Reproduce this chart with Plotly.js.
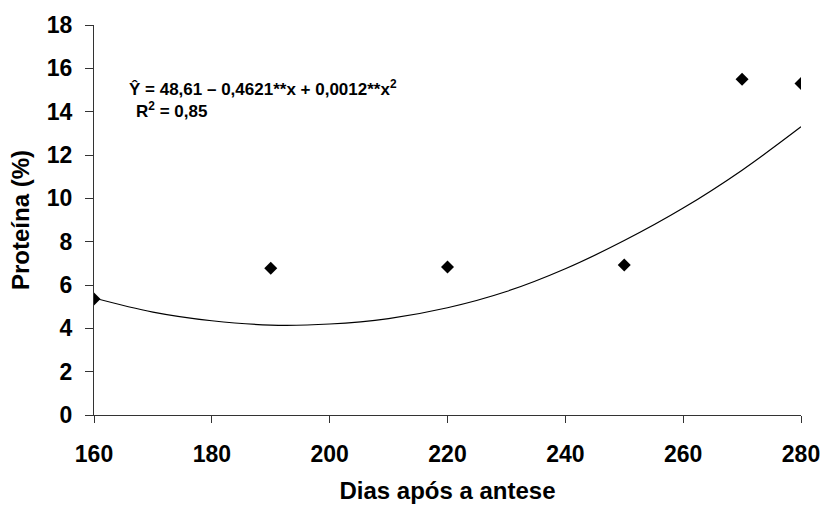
<!DOCTYPE html>
<html>
<head>
<meta charset="utf-8">
<script src="https://cdn.plot.ly/plotly-3.0.1.min.js"></script>
<style>html,body{margin:0;padding:0;background:#fff;}#chart{width:838px;height:507px;}</style>
</head>
<body>
<div id="chart"></div>
<script>
// Observed data (days after anthesis vs protein %)
const days = [160, 190, 220, 250, 270, 280];
const protein = [5.35, 6.77, 6.83, 6.92, 15.5, 15.3];

// Fitted curve
const curveDays = [160, 170, 180, 190, 200, 210, 220, 230, 240, 250, 260, 270, 280];
const curveProtein = [5.4, 4.75, 4.35, 4.15, 4.2, 4.45, 4.95, 5.7, 6.75, 8.05, 9.55, 11.3, 13.3];

const xTicks = [160, 180, 200, 220, 240, 260, 280];
const yTicks = [0, 2, 4, 6, 8, 10, 12, 14, 16, 18];

const equationText = 'Ŷ = 48,61 – 0,4621**x + 0,0012**x<sup>2</sup>';
const r2Text = 'R<sup>2</sup> = 0,85';

const FONT = 'Arial, "Liberation Sans", sans-serif';

const traces = [
  {
    x: curveDays, y: curveProtein, type: 'scatter', mode: 'lines',
    line: {color: '#000', width: 1.2, shape: 'spline'},
    hoverinfo: 'skip', showlegend: false
  },
  {
    x: days, y: protein, type: 'scatter', mode: 'markers',
    marker: {symbol: 'diamond', size: 10, color: '#000'},
    showlegend: false
  }
];

const layout = {
  width: 838, height: 507,
  margin: {l: 94, r: 37, t: 25, b: 92},
  paper_bgcolor: '#fff', plot_bgcolor: '#fff',
  font: {family: FONT, color: '#000'},
  showlegend: false,
  xaxis: {
    range: [160, 280], tickvals: xTicks, ticktext: xTicks.map(String),
    showgrid: false, zeroline: false,
    showline: true, linecolor: '#333', linewidth: 1,
    ticks: 'outside', ticklen: 7, tickcolor: '#333', tickwidth: 1,
    tickfont: {family: FONT, size: 23, weight: 'bold', color: '#000'},
    ticklabelstandoff: 11,
    title: {text: 'Dias após a antese', font: {family: FONT, size: 24, weight: 'bold', color: '#000'}, standoff: 16},
    automargin: false
  },
  yaxis: {
    range: [0, 18], tickvals: yTicks, ticktext: yTicks.map(String),
    showgrid: false, zeroline: false,
    showline: true, linecolor: '#333', linewidth: 1,
    ticks: 'outside', ticklen: 8, tickcolor: '#333', tickwidth: 1,
    tickfont: {family: FONT, size: 23, weight: 'bold', color: '#000'},
    ticklabelstandoff: 8,
    title: {text: 'Proteína (%)', font: {family: FONT, size: 24, weight: 'bold', color: '#000'}, standoff: 10},
    automargin: false
  },
  annotations: [
    {
      xref: 'paper', yref: 'paper', x: (127 - 94) / 707, y: (415 - 88) / 390,
      xanchor: 'left', yanchor: 'middle', showarrow: false, align: 'left',
      text: equationText, font: {family: FONT, size: 17, weight: 'bold', color: '#000'}
    },
    {
      xref: 'paper', yref: 'paper', x: (134 - 94) / 707, y: (415 - 110) / 390,
      xanchor: 'left', yanchor: 'middle', showarrow: false, align: 'left',
      text: r2Text, font: {family: FONT, size: 17, weight: 'bold', color: '#000'}
    }
  ]
};

Plotly.newPlot('chart', traces, layout, {displayModeBar: false, staticPlot: true});
</script>
</body>
</html>
